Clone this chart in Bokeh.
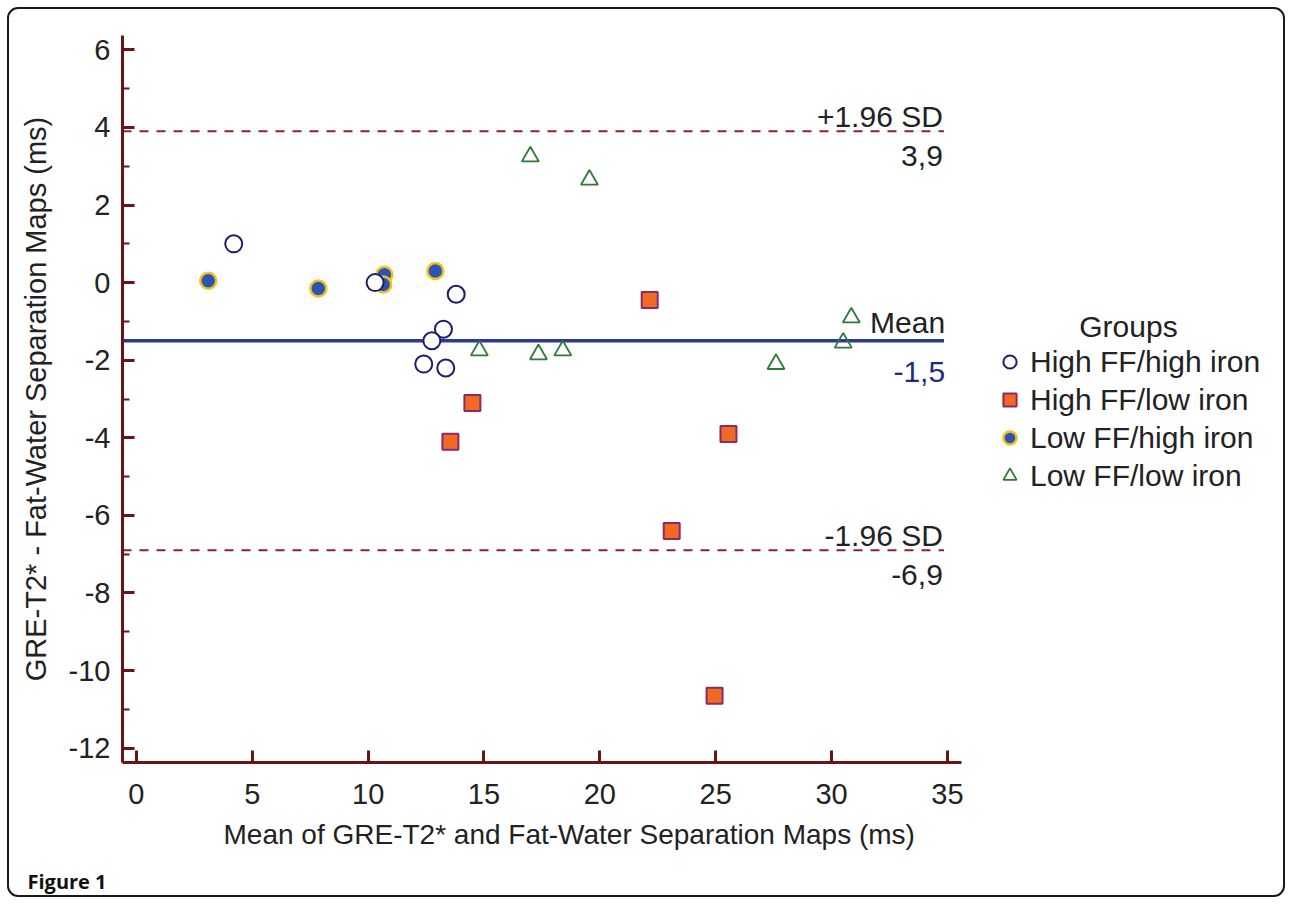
from bokeh.plotting import figure
from bokeh.models import Range1d, FixedTicker, Legend, LegendItem, Label, Title
from bokeh.embed import file_html
from bokeh.resources import INLINE

# ---------------- data ----------------
groups = ["High FF/high iron", "High FF/low iron", "Low FF/high iron", "Low FF/low iron"]

hh_x = [4.2, 10.3, 13.8, 13.25, 12.75, 12.4, 13.35]
hh_y = [1.0, 0.0, -0.3, -1.2, -1.5, -2.1, -2.2]

hl_x = [22.15, 14.5, 13.55, 25.55, 23.1, 24.95]
hl_y = [-0.45, -3.1, -4.1, -3.9, -6.4, -10.65]

lh_x = [3.1, 7.85, 10.7, 10.65, 12.9]
lh_y = [0.05, -0.15, 0.2, -0.05, 0.3]

ll_x = [17.0, 19.55, 14.8, 17.35, 18.4, 27.6, 30.5, 30.85]
ll_y = [3.25, 2.65, -1.75, -1.85, -1.75, -2.1, -1.55, -0.9]

mean_diff = -1.5
upper_loa = 3.9
lower_loa = -6.9
mean_text = "-1,5"
upper_text = "3,9"
lower_text = "-6,9"

x_ticks = [0, 5, 10, 15, 20, 25, 30, 35]
y_ticks = [-12, -10, -8, -6, -4, -2, 0, 2, 4, 6]
y_minor = [-11, -9, -7, -5, -3, -1, 1, 3, 5]
y_tick_labels = ["-12", "-10", "-8", "-6", "-4", "-2", "0", "2", "4", "6"]

x_title = "Mean of GRE-T2* and Fat-Water Separation Maps (ms)"
y_title = "GRE-T2* - Fat-Water Separation Maps (ms)"
legend_title = "Groups"
caption = "Figure 1"

# ---------------- styles ----------------
FONT = "Liberation Sans"
AXIS_COL = "#6a1414"
DASH_COL = "#8e2424"
MEAN_COL = "#2b3894"
TXT = "#222222"

# the plotting area extends to the right edge so the legend can sit inside it;
# the x axis itself is bounded to 0..35 like the reference
p = figure(width=1292, height=904, output_backend="svg", toolbar_location=None,
           x_range=Range1d(-0.6, 49.89), y_range=Range1d(-12.37, 6.37),
           min_border_left=122, min_border_right=0, min_border_top=35, min_border_bottom=142)
p.styles = {"outline": "2px solid #1a1a1a", "outline-offset": "-9px", "border-radius": "18px"}
p.outline_line_color = None
p.xgrid.visible = False
p.ygrid.visible = False
p.background_fill_color = None
p.border_fill_color = None

for ax in (p.xaxis[0], p.yaxis[0]):
    ax.axis_line_color = AXIS_COL
    ax.axis_line_width = 3
    ax.major_tick_line_color = AXIS_COL
    ax.major_tick_line_width = 3
    ax.minor_tick_line_color = AXIS_COL
    ax.minor_tick_line_width = 2
    ax.major_tick_in = 12
    ax.major_tick_out = 0
    ax.minor_tick_in = 7
    ax.minor_tick_out = 0
    ax.major_label_text_font = FONT
    ax.major_label_text_font_size = "29px"
    ax.major_label_text_color = TXT
    ax.axis_label_text_font = FONT
    ax.axis_label_text_font_style = "normal"
    ax.axis_label_text_color = TXT

p.xaxis[0].ticker = FixedTicker(ticks=x_ticks, minor_ticks=[])
p.xaxis[0].bounds = (p.x_range.start, 35.6)
p.xaxis[0].minor_tick_line_color = None
p.xaxis[0].major_label_standoff = 21

p.yaxis[0].ticker = FixedTicker(ticks=y_ticks, minor_ticks=y_minor)
p.yaxis[0].major_label_overrides = {float(t): s for t, s in zip(y_ticks, y_tick_labels)}
p.yaxis[0].major_label_standoff = 12
p.yaxis[0].axis_label = y_title
p.yaxis[0].axis_label_text_font_size = "29px"
p.yaxis[0].axis_label_standoff = 14

# x-axis title, positioned as in the reference
p.add_layout(Title(text=x_title, align="left", offset=101, standoff=21,
                   text_font=FONT, text_font_style="normal",
                   text_font_size="28px", text_color=TXT), "below")
# figure caption
p.add_layout(Title(text=caption, align="left", offset=-95, standoff=10,
                   text_font="Open Sans", text_font_style="bold",
                   text_font_size="20px", text_color="#111111"), "below")

line_end = 34.85
x0 = p.x_range.start

# limits of agreement and mean
p.line([x0, line_end], [upper_loa, upper_loa], line_color=DASH_COL, line_width=2, line_dash="9 8")
p.line([x0, line_end], [lower_loa, lower_loa], line_color=DASH_COL, line_width=2, line_dash="9 8")
p.line([x0, line_end], [mean_diff, mean_diff], line_color=MEAN_COL, line_width=3.5)

# points
r_ll = p.scatter(ll_x, ll_y, marker="triangle", size=17, fill_color=None,
                 line_color="#2e7a3a", line_width=1.8)
r_hl = p.scatter(hl_x, hl_y, marker="square", size=16, fill_color="#f26a21",
                 line_color="#8a2a6a", line_width=2)
r_lh = p.scatter(lh_x, lh_y, marker="circle", size=16, fill_color="#2a55b5",
                 line_color="#f2c21a", line_width=2.5)
r_hh = p.scatter(hh_x, hh_y, marker="circle", size=17, fill_color="white",
                 line_color="#1c1c6b", line_width=2)

# line labels
def lab(x, y, text, off, color=TXT, size="30px", align="right"):
    p.add_layout(Label(x=x, y=y, text=text, y_offset=off, text_align=align,
                       text_baseline="middle", text_font=FONT,
                       text_font_size=size, text_color=color))

lab(34.8, upper_loa, "+1.96 SD", 15)
lab(34.8, upper_loa, upper_text, -25)
lab(34.9, mean_diff, "Mean", 18)
lab(34.9, mean_diff, mean_text, -31, color="#1f2a80")
lab(34.8, lower_loa, "-1.96 SD", 15)
lab(34.8, lower_loa, lower_text, -25)

# legend (inside the widened plotting area, right of the x axis)
legend = Legend(items=[LegendItem(label=groups[0], renderers=[r_hh]),
                       LegendItem(label=groups[1], renderers=[r_hl]),
                       LegendItem(label=groups[2], renderers=[r_lh]),
                       LegendItem(label=groups[3], renderers=[r_ll])],
                location=(871, 269), border_line_color=None, background_fill_alpha=0,
                label_text_font=FONT, label_text_font_size="30px",
                label_text_color=TXT, glyph_width=33, glyph_height=33, label_height=35,
                label_standoff=4, spacing=3, padding=0, margin=0)
p.add_layout(legend, "center")
lab(42.81, -1.13, legend_title, 0, align="center")

open("out.html", "w").write(file_html(p, INLINE))
